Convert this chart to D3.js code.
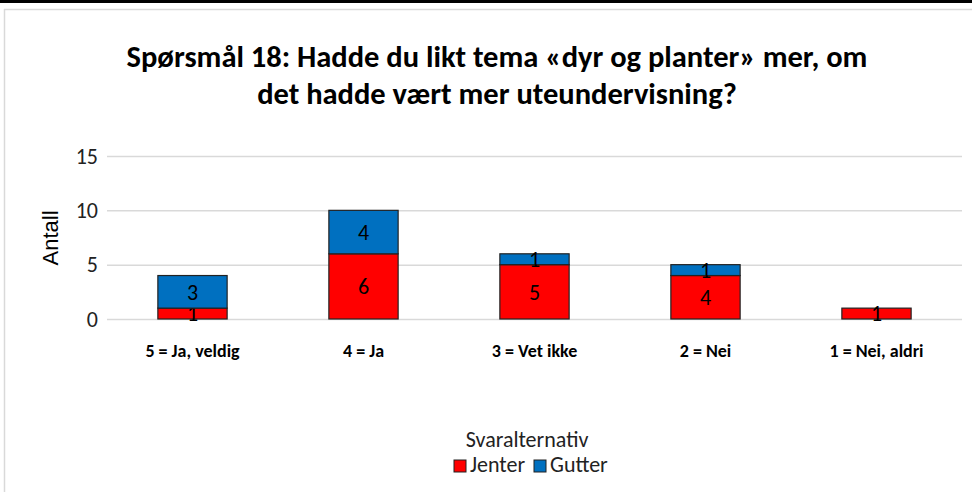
<!DOCTYPE html>
<html>
<head>
<meta charset="utf-8">
<script src="https://cdn.jsdelivr.net/npm/d3@7"></script>
<style>
  body { margin: 0; background: #fff; }
  svg { display: block; font-family: Calibri, Carlito, "Open Sans", sans-serif; }
</style>
</head>
<body>
<div id="chart"></div>
<script>
// Data
const categories = ['5 = Ja, veldig', '4 = Ja', '3 = Vet ikke', '2 = Nei', '1 = Nei, aldri'];
const jenter = [1, 6, 5, 4, 1];
const gutter = [3, 4, 1, 1, 0];
const seriesNames = ['Jenter', 'Gutter'];
const seriesColors = ['#ff0000', '#0070c0'];
const yTicks = [0, 5, 10, 15];

const W = 972, H = 492;
const plot = { left: 107, right: 962, top: 156, bottom: 319 };

const svg = d3.select('#chart')
  .append('svg')
    .attr('width', W)
    .attr('height', H);

// Frame lines
svg.append('rect').attr('x', 0).attr('y', 0).attr('width', W).attr('height', 3).attr('fill', '#000');
svg.append('line').attr('x1', 4.5).attr('x2', 4.5).attr('y1', 9).attr('y2', H)
  .attr('stroke', '#d9d9d9').attr('stroke-width', 1.5);
svg.append('line').attr('x1', 4).attr('x2', W).attr('y1', 9.5).attr('y2', 9.5)
  .attr('stroke', '#d9d9d9').attr('stroke-width', 1.5);

// Title
const title = svg.append('text')
  .attr('text-anchor', 'middle')
  .attr('font-weight', 'bold')
  .attr('font-size', 30.5)
  .attr('fill', '#000');
title.append('tspan').attr('x', 497).attr('y', 67)
  .text('Spørsmål 18: Hadde du likt tema «dyr og planter» mer, om');
title.append('tspan').attr('x', 497).attr('y', 104)
  .text('det hadde vært mer uteundervisning?');

// Scales
const x = d3.scaleBand()
  .domain(categories)
  .range([plot.left, plot.right])
  .padding(0);

const y = d3.scaleLinear()
  .domain([0, 15])
  .range([plot.bottom, plot.top]);

const barW = x.bandwidth() * 0.405;

// Gridlines + y labels
const yAxis = svg.append('g')
  .attr('transform', `translate(${plot.left},0)`)
  .call(d3.axisLeft(y).tickValues(yTicks).tickSize(-(plot.right - plot.left)).tickPadding(9));
yAxis.select('.domain').remove();
yAxis.selectAll('.tick line').attr('stroke', '#d9d9d9').attr('stroke-width', 1.5);
yAxis.selectAll('.tick text')
  .attr('font-size', 22)
  .attr('font-family', 'Calibri, Carlito, "Open Sans", sans-serif')
  .attr('fill', '#222');

// Y axis title
svg.append('text')
  .attr('transform', 'rotate(-90)')
  .attr('x', -238)
  .attr('y', 58)
  .attr('text-anchor', 'middle')
  .attr('font-family', 'Arial, "Liberation Sans", sans-serif')
  .attr('font-size', 22)
  .attr('fill', '#000')
  .text('Antall');

// Stacked data
const rows = categories.map((c, i) => ({ cat: c, Jenter: jenter[i], Gutter: gutter[i] }));
const stacked = d3.stack().keys(seriesNames)(rows);

const layers = svg.selectAll('.layer')
  .data(stacked)
  .enter()
  .append('g')
    .attr('class', 'layer')
    .attr('fill', (d, i) => seriesColors[i]);

layers.selectAll('rect')
  .data(d => d.filter(p => p[1] - p[0] > 0))
  .enter()
  .append('rect')
    .attr('x', d => x(d.data.cat) + (x.bandwidth() - barW) / 2)
    .attr('y', d => y(d[1]))
    .attr('width', barW)
    .attr('height', d => y(d[0]) - y(d[1]))
    .attr('stroke', '#222')
    .attr('stroke-width', 1.2);

// Data labels
layers.selectAll('.lbl')
  .data(d => d.filter(p => p[1] - p[0] > 0))
  .enter()
  .append('text')
    .attr('class', 'lbl')
    .attr('x', d => x(d.data.cat) + x.bandwidth() / 2)
    .attr('y', d => (y(d[0]) + y(d[1])) / 2)
    .attr('dy', '0.36em')
    .attr('text-anchor', 'middle')
    .attr('font-size', 22)
    .attr('fill', '#000')
    .text(d => d[1] - d[0]);

// Category labels
svg.append('g').selectAll('text')
  .data(categories)
  .enter()
  .append('text')
    .attr('x', d => x(d) + x.bandwidth() / 2)
    .attr('y', 357)
    .attr('text-anchor', 'middle')
    .attr('font-weight', 'bold')
    .attr('font-size', 18)
    .attr('fill', '#000')
    .text(d => d);

// Legend
svg.append('text')
  .attr('x', 527)
  .attr('y', 447)
  .attr('text-anchor', 'middle')
  .attr('font-size', 22)
  .attr('fill', '#222')
  .text('Svaralternativ');

const legendX = [454, 534];
const legend = svg.append('g').selectAll('g')
  .data(seriesNames)
  .enter()
  .append('g')
    .attr('transform', (d, i) => `translate(${legendX[i]},460)`);
legend.append('rect')
  .attr('width', 12).attr('height', 12)
  .attr('fill', (d, i) => seriesColors[i])
  .attr('stroke', '#222');
legend.append('text')
  .attr('x', 16)
  .attr('y', 12)
  .attr('font-size', 22)
  .attr('fill', '#222')
  .text(d => d);
</script>
</body>
</html>
